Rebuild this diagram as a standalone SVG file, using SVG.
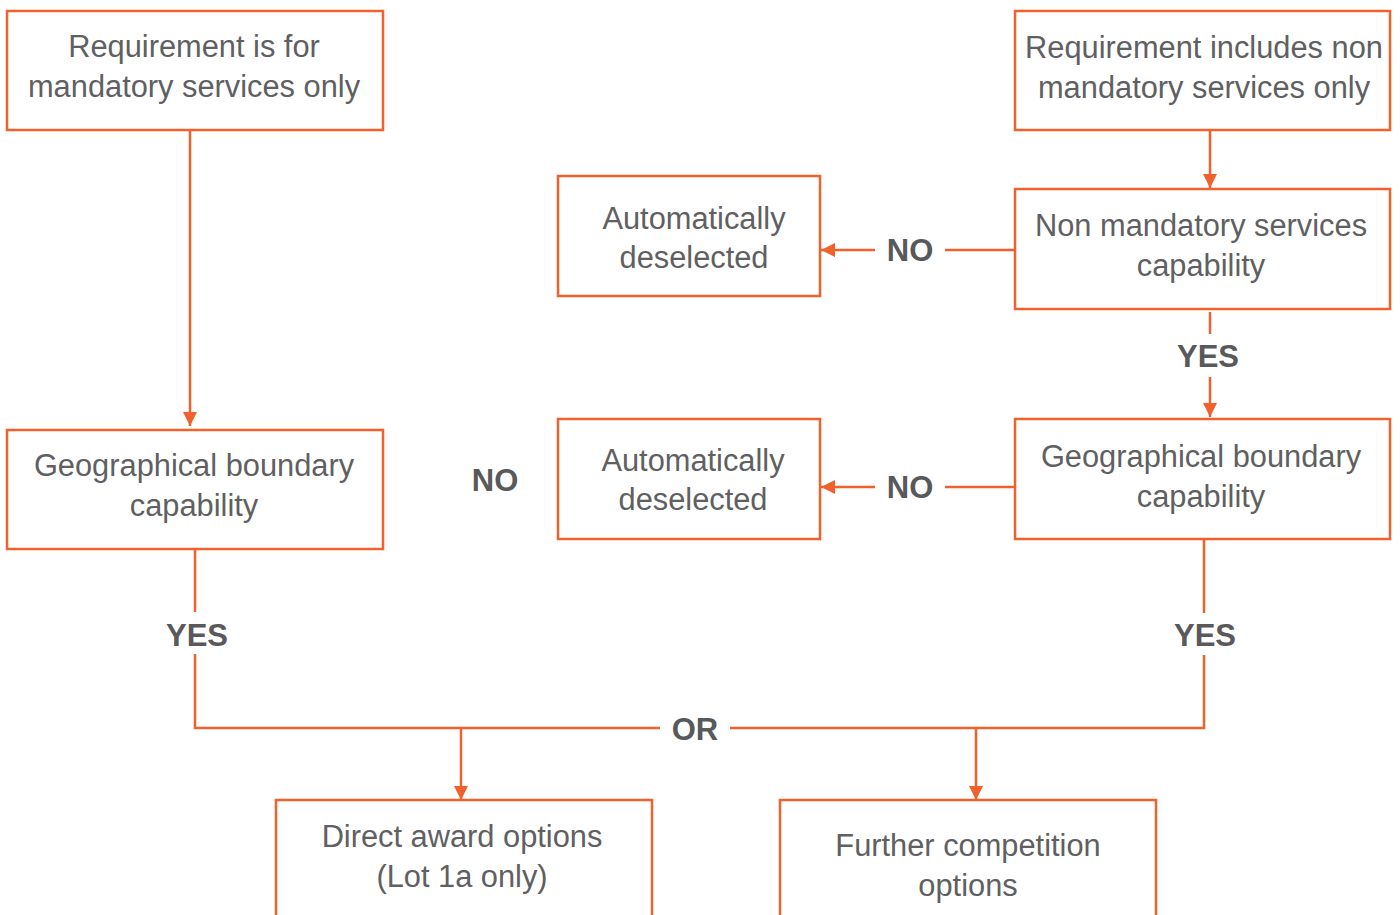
<svg xmlns="http://www.w3.org/2000/svg" width="1400" height="915" viewBox="0 0 1400 915">
<defs>
<style>
.box{fill:#fff;stroke:#F0612D;stroke-width:2.5}
.t{font-family:"Liberation Sans",Arial,sans-serif;font-size:30.8px;fill:#606062;text-anchor:middle}
.lbl{font-family:"Liberation Sans",Arial,sans-serif;font-size:31px;font-weight:bold;fill:#58595b;text-anchor:middle}
.c{fill:none;stroke:#F0612D;stroke-width:2.5}
</style>
<marker id="ah" viewBox="0 0 10 10" refX="10" refY="5" markerWidth="5.6" markerHeight="5.6" markerUnits="strokeWidth" orient="auto">
<path d="M0,0 L10,5 L0,10 Z" fill="#F0612D"/>
</marker>
</defs>
<rect width="1400" height="915" fill="#fff"/>
<g id="connectors">
<path class="c" d="M190,130 V426" marker-end="url(#ah)"/>
<path class="c" d="M1210,130 V188" marker-end="url(#ah)"/>
<path class="c" d="M1016,250 H945"/>
<path class="c" d="M875,250 H821" marker-end="url(#ah)"/>
<path class="c" d="M1210,312 V334"/>
<path class="c" d="M1210,377 V417" marker-end="url(#ah)"/>
<path class="c" d="M1016,487 H945"/>
<path class="c" d="M875,487 H821" marker-end="url(#ah)"/>
<path class="c" d="M195,547 V612"/>
<path class="c" d="M195,654 V728 H660"/>
<path class="c" d="M730,728 H1204 V655"/>
<path class="c" d="M1204,613 V539"/>
<path class="c" d="M461,728 V800" marker-end="url(#ah)"/>
<path class="c" d="M976,728 V800" marker-end="url(#ah)"/>
</g>
<g id="n1"><rect class="box" x="7" y="11" width="376" height="119"/>
<text class="t" x="194" y="57">Requirement is for</text><text class="t" x="194" y="97">mandatory services only</text></g>
<g id="n2"><rect class="box" x="1015" y="11" width="375" height="119"/>
<text class="t" x="1204" y="58">Requirement includes non</text><text class="t" x="1204" y="98">mandatory services only</text></g>
<g id="n3"><rect class="box" x="1015" y="189" width="375" height="120"/>
<text class="t" x="1201" y="236">Non mandatory services</text><text class="t" x="1201" y="276">capability</text></g>
<g id="n4"><rect class="box" x="558" y="176" width="262" height="120"/>
<text class="t" x="694" y="229">Automatically</text><text class="t" x="694" y="268">deselected</text></g>
<g id="n5"><rect class="box" x="1015" y="419" width="375" height="120"/>
<text class="t" x="1201" y="467">Geographical boundary</text><text class="t" x="1201" y="507">capability</text></g>
<g id="n6"><rect class="box" x="558" y="419" width="262" height="120"/>
<text class="t" x="693" y="471">Automatically</text><text class="t" x="693" y="510">deselected</text></g>
<g id="n7"><rect class="box" x="7" y="430" width="376" height="119"/>
<text class="t" x="194" y="476">Geographical boundary</text><text class="t" x="194" y="516">capability</text></g>
<g id="n8"><rect class="box" x="276" y="800" width="376" height="130"/>
<text class="t" x="462" y="847">Direct award options</text><text class="t" x="462" y="887">(Lot 1a only)</text></g>
<g id="n9"><rect class="box" x="780" y="800" width="376" height="130"/>
<text class="t" x="968" y="856">Further competition</text><text class="t" x="968" y="896">options</text></g>
<g id="labels">
<text class="lbl" x="910" y="261">NO</text>
<text class="lbl" x="1208" y="367">YES</text>
<text class="lbl" x="910" y="498">NO</text>
<text class="lbl" x="495" y="491">NO</text>
<text class="lbl" x="197" y="646">YES</text>
<text class="lbl" x="1205" y="646">YES</text>
<text class="lbl" x="695" y="740">OR</text>
</g>
</svg>
